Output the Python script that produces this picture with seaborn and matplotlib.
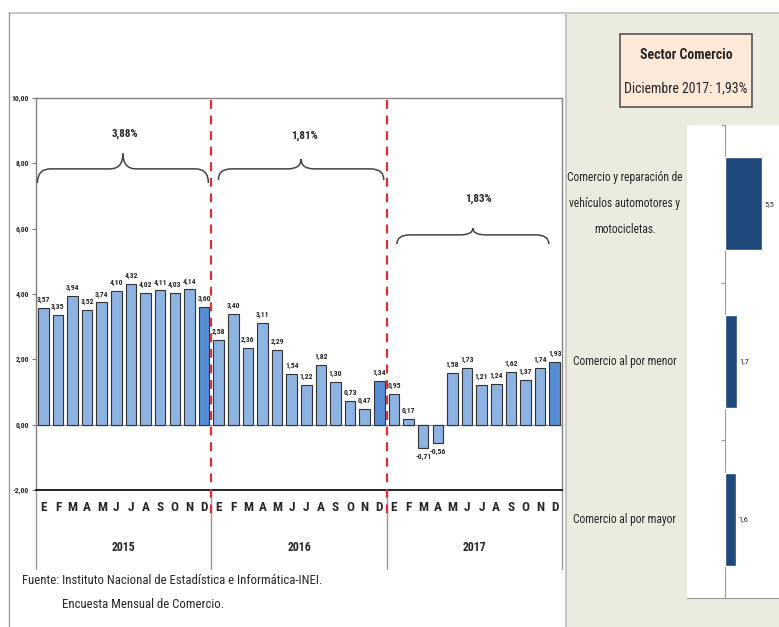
import numpy as np
import pandas as pd
import seaborn as sns
import matplotlib.pyplot as plt
from matplotlib.path import Path
from matplotlib.patches import PathPatch, Rectangle
from matplotlib.lines import Line2D

# Datos: variacion % mensual del sector comercio
meses = ['E', 'F', 'M', 'A', 'M', 'J', 'J', 'A', 'S', 'O', 'N', 'D']
anios = ['2015', '2016', '2017']
val_2015 = [3.57, 3.35, 3.94, 3.52, 3.74, 4.10, 4.32, 4.02, 4.11, 4.03, 4.14, 3.60]
val_2016 = [2.58, 3.40, 2.36, 3.11, 2.29, 1.54, 1.22, 1.82, 1.30, 0.73, 0.47, 1.34]
val_2017 = [0.95, 0.17, -0.71, -0.56, 1.58, 1.73, 1.21, 1.24, 1.62, 1.37, 1.74, 1.93]
promedios = ['3,88%', '1,81%', '1,83%']

subsectores = ['Comercio y reparación de\nvehículos automotores y\nmotocicletas.',
               'Comercio al por menor', 'Comercio al por mayor']
sub_valores = [5.5, 1.7, 1.6]
sub_etiquetas = ['5,5', '1,7', '1,6']

sns.set_style('white')
plt.rcParams['font.family'] = ['Roboto Condensed', 'Liberation Sans Narrow', 'Liberation Sans', 'DejaVu Sans']

fig = plt.figure(figsize=(7.79, 6.27), dpi=100)
fig.patch.set_facecolor('white')

# fondo beige del panel derecho y marco
fig.patches.append(Rectangle((566 / 779, 0), 1 - 566 / 779, 1 - 13 / 627, transform=fig.transFigure,
                             facecolor='#ecebe0', edgecolor='none', zorder=-5))
fig.add_artist(Line2D([9 / 779, 1], [1 - 13 / 627] * 2, color='#bdbdbd', lw=1.2, zorder=-4))
fig.add_artist(Line2D([9 / 779] * 2, [0, 1 - 13 / 627], color='#9a9a9a', lw=1, zorder=-4))
fig.add_artist(Line2D([566 / 779] * 2, [0, 1 - 13 / 627], color='#c8c8c0', lw=1.5, zorder=-4))

# ---- grafico principal ----
ax = fig.add_axes([36 / 779, 1 - 490 / 627, (562 - 36) / 779, (490 - 98) / 627])
valores = val_2015 + val_2016 + val_2017
df = pd.DataFrame({'idx': range(len(valores)), 'valor': valores})
colores = ['#558ed5' if i % 12 == 11 else '#8db3e2' for i in range(len(valores))]
sns.barplot(data=df, x='idx', y='valor', hue='idx', palette=colores, legend=False, saturation=1,
            width=0.72, edgecolor='#333333', linewidth=0.8, ax=ax, zorder=3)

ax.set_xlim(-0.5, 35.5)
ax.set_ylim(-2, 10)
ax.set_yticks(np.arange(-2, 11, 2))
ax.set_yticklabels([f'{v:.2f}'.replace('.', ',') for v in np.arange(-2, 11, 2)],
                   fontsize=5.5, fontweight='bold')
ax.tick_params(axis='y', length=3, pad=2, left=True, color='#777777')
ax.set_xticks([])
ax.set_xlabel('')
ax.set_ylabel('')
for s in ['top', 'right', 'left']:
    ax.spines[s].set_color('#808080')
    ax.spines[s].set_linewidth(1)
ax.spines['bottom'].set_color('black')
ax.spines['bottom'].set_linewidth(1.2)
ax.axhline(0, color='#999999', lw=1, zorder=2)

# etiquetas de valores
for i, v in enumerate(valores):
    txt = f'{v:.2f}'.replace('.', ',')
    if v >= 0:
        ax.text(i, v + 0.15, txt, ha='center', va='bottom', fontsize=5.5, fontweight='bold')
    else:
        ax.text(i, v - 0.15, txt, ha='center', va='top', fontsize=5.5, fontweight='bold')

# lineas rojas separadoras
for xs in [11.5, 23.5]:
    ax.plot([xs, xs], [9.95, -2.8], color='#e03030', lw=1.6, ls=(0, (4, 3)), clip_on=False, zorder=4)

# meses, anios y separadores bajo el eje
for i in range(len(valores)):
    ax.text(i, -2.55, meses[i % 12], ha='center', va='center', fontsize=9.5, fontweight='bold')
for k, a in enumerate(anios):
    ax.text(12 * k + 5.5, -3.77, a, ha='center', va='center', fontsize=8.5, fontweight='bold')
for xs in [-0.5, 11.5, 23.5, 35.5]:
    ax.plot([xs, xs], [-2, -4.42], color='#999999', lw=1, clip_on=False)


def llave(ax, x0, x1, y_fin, y_plano, y_punta, r=0.9):
    xm = (x0 + x1) / 2
    verts = [(x0, y_fin), (x0, y_plano), (x0 + r, y_plano),
             (xm - r, y_plano), (xm, y_plano), (xm, y_punta),
             (xm, y_plano), (xm + r, y_plano),
             (x1 - r, y_plano), (x1, y_plano), (x1, y_fin)]
    codes = [Path.MOVETO, Path.CURVE3, Path.CURVE3,
             Path.LINETO, Path.CURVE3, Path.CURVE3,
             Path.CURVE3, Path.CURVE3,
             Path.LINETO, Path.CURVE3, Path.CURVE3]
    ax.add_patch(PathPatch(Path(verts, codes), facecolor='none', edgecolor='#444444', lw=1.1, zorder=4))


llave(ax, -0.4, 11.3, 7.4, 7.83, 8.3)
llave(ax, 11.98, 23.3, 7.49, 7.83, 8.13)
llave(ax, 24.2, 34.6, 5.53, 5.81, 6.01)
ax.text(5.6, 8.9, promedios[0], ha='center', va='center', fontsize=8, fontweight='bold')
ax.text(17.9, 8.83, promedios[1], ha='center', va='center', fontsize=8, fontweight='bold')
ax.text(29.75, 6.9, promedios[2], ha='center', va='center', fontsize=8, fontweight='bold')

# fuente
fig.text(22 / 779, 1 - 580 / 627, 'Fuente: Instituto Nacional de Estadística e Informática-INEI.',
         ha='left', va='center', fontsize=9.2)
fig.text(62 / 779, 1 - 605 / 627, 'Encuesta Mensual de Comercio.', ha='left', va='center', fontsize=9.2)

# ---- panel derecho: recuadro titulo ----
fig.patches.append(Rectangle((620 / 779, 1 - 107 / 627), 132 / 779, 73 / 627, transform=fig.transFigure,
                             facecolor='#fde9d9', edgecolor='#555555', lw=1.2, zorder=2))
fig.text(686 / 779, 1 - 55 / 627, 'Sector Comercio', ha='center', va='center', fontsize=10,
         fontweight='bold', zorder=3)
fig.text(686 / 779, 1 - 88 / 627, 'Diciembre 2017: 1,93%', ha='center', va='center', fontsize=10,
         zorder=3)

# ---- panel derecho: barras por subsector ----
ax2 = fig.add_axes([687 / 779, 1 - 598 / 627, (779 - 687) / 779, (598 - 125) / 627])
ax2.set_facecolor('white')
df2 = pd.DataFrame({'sub': subsectores, 'valor': sub_valores})
sns.barplot(data=df2, y='sub', x='valor', color='#1f497d', saturation=1, width=0.59, ax=ax2, zorder=3)
ax2.set_xlim(-5.7, 8.0)
ax2.set_ylim(2.5, -0.5)
ax2.set_xticks([])
ax2.set_yticks([-0.5, 0.5, 1.5, 2.5])
ax2.set_yticklabels([])
ax2.set_xlabel('')
ax2.set_ylabel('')
ax2.tick_params(axis='y', left=True, length=3, color='#999999')
ax2.spines['left'].set_position(('data', 0))
ax2.spines['left'].set_color('#999999')
ax2.spines['bottom'].set_color('#999999')
ax2.spines['top'].set_visible(False)
ax2.spines['right'].set_visible(False)
for i, (v, t) in enumerate(zip(sub_valores, sub_etiquetas)):
    ax2.text(v + 0.4, i, t, ha='left', va='center', fontsize=6)
for i, s in enumerate(subsectores):
    ax2.text(-0.675, i, s, transform=ax2.get_yaxis_transform(), ha='center', va='center',
             fontsize=8.3, linespacing=2.3, clip_on=False)

fig.savefig('out.png', dpi=100)
